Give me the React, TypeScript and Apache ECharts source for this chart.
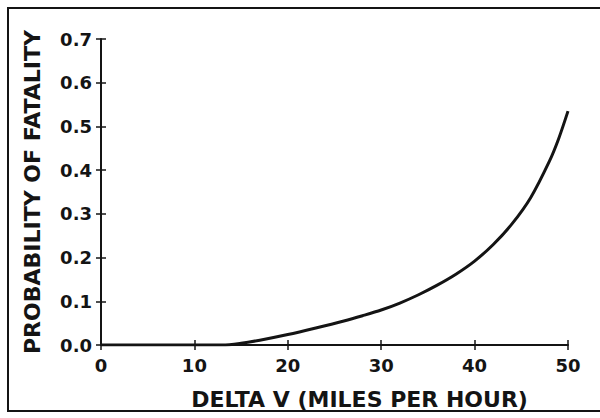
import React, { useEffect, useRef } from "react";
import * as echarts from "echarts";

const deltaV = [0, 10, 13, 15, 17, 20, 23, 26, 28, 30, 32, 34, 36, 38, 40, 42, 44, 46, 48, 49, 50];
const probability = [0, 0, 0, 0.004, 0.011, 0.024, 0.039, 0.055, 0.067, 0.08, 0.096, 0.115, 0.137, 0.162, 0.192, 0.23, 0.277, 0.337, 0.42, 0.472, 0.535];
const xTicks = [0, 10, 20, 30, 40, 50];
const yTicks = [0, 0.1, 0.2, 0.3, 0.4, 0.5, 0.6, 0.7];

const FONT = "DejaVu Sans";
const INK = "#141414";

export default function App() {
  const ref = useRef<HTMLDivElement>(null);
  useEffect(() => {
    if (!ref.current) return;
    const chart = echarts.init(ref.current, undefined, { renderer: "svg" });
    const labelStyle = { color: INK, fontFamily: FONT, fontWeight: "bold" as const, fontSize: 18 };
    chart.setOption({
      animation: false,
      backgroundColor: "#ffffff",
      graphic: [
        {
          type: "rect",
          shape: { x: 8, y: 8, width: 600, height: 403 },
          style: { fill: "none", stroke: INK, lineWidth: 2 },
          silent: true,
        },
      ],
      grid: { left: 101, right: 32, top: 39, bottom: 73 },
      xAxis: [
        {
          type: "value",
          min: 0,
          max: 50,
          interval: 10,
          name: "DELTA V (MILES PER HOUR)",
          nameLocation: "middle",
          nameGap: 43,
          nameTextStyle: { ...labelStyle, fontSize: 22, padding: [0, 0, 0, 50] },
          axisLine: { show: true, lineStyle: { color: INK, width: 2 } },
          axisTick: { show: true, length: 5, lineStyle: { color: INK, width: 1.5 } },
          axisLabel: { ...labelStyle, margin: 11, formatter: (v: number) => (xTicks.includes(v) ? String(v) : "") },
          splitLine: { show: false },
        },
        {
          type: "value",
          min: 0,
          max: 50,
          interval: 10,
          position: "bottom",
          axisLine: { show: false },
          axisTick: { show: true, inside: true, length: 5, lineStyle: { color: INK, width: 1.5 } },
          axisLabel: { show: false },
          splitLine: { show: false },
        },
      ],
      yAxis: [
        {
          type: "value",
          min: 0,
          max: 0.7,
          interval: 0.1,
          name: "PROBABILITY OF FATALITY",
          nameLocation: "middle",
          nameGap: 58,
          nameRotate: 90,
          nameTextStyle: { ...labelStyle, fontSize: 22 },
          axisLine: { show: true, lineStyle: { color: INK, width: 2 } },
          axisTick: { show: true, length: 5, lineStyle: { color: INK, width: 1.5 } },
          axisLabel: {
            ...labelStyle,
            margin: 9,
            formatter: (v: number) => {
              const t = yTicks.find((y) => Math.abs(y - v) < 1e-6);
              return t === undefined ? "" : t.toFixed(1);
            },
          },
          splitLine: { show: false },
        },
        {
          type: "value",
          min: 0,
          max: 0.7,
          interval: 0.1,
          position: "left",
          axisLine: { show: false },
          axisTick: { show: true, inside: true, length: 5, lineStyle: { color: INK, width: 1.5 } },
          axisLabel: { show: false },
          splitLine: { show: false },
        },
      ],
      series: [
        {
          type: "line",
          xAxisIndex: 0,
          yAxisIndex: 0,
          data: deltaV.map((x, i) => [x, probability[i]]),
          smooth: 0.3,
          showSymbol: false,
          lineStyle: { color: INK, width: 3 },
        },
      ],
    });
    return () => chart.dispose();
  }, []);
  return <div ref={ref} style={{ width: 600, height: 418, position: "absolute", left: 0, top: 0 }} />;
}
